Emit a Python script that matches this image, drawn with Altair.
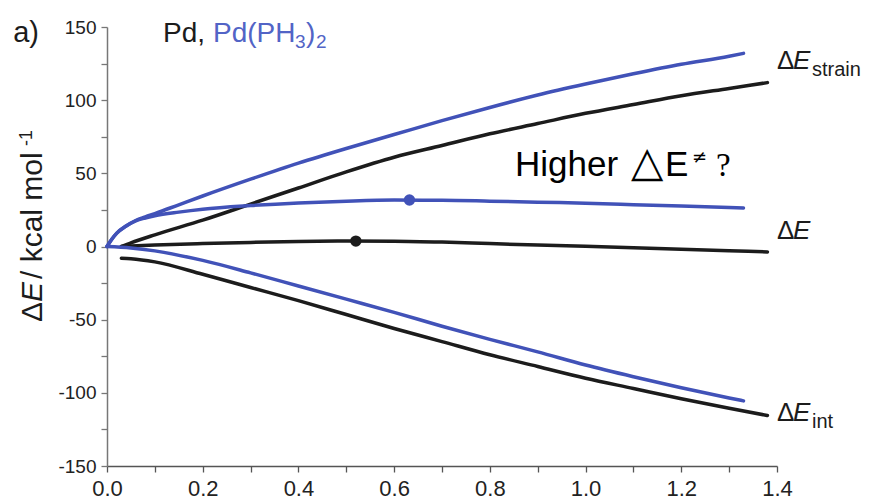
import altair as alt
import pandas as pd

# ---------------- data ----------------
# Pd (black)
pd_x = [0.03, 0.05, 0.1, 0.2, 0.3, 0.4, 0.5, 0.6, 0.7, 0.8, 0.9, 1.0, 1.1, 1.2, 1.3, 1.38]
pd_strain = [0, 2.5, 8, 18, 29, 40, 51, 61, 69, 77, 84, 91, 97, 103, 108, 112]
pd_de = [0, 0.3, 1, 2, 2.8, 3.4, 3.7, 3.6, 3.0, 2.0, 1.0, 0.1, -0.9, -1.9, -2.9, -3.7]
pd_int = [-8, -8.3, -10.5, -19, -28, -37, -46.5, -56, -65, -74, -82, -90, -97, -104, -110.5, -115.5]

# Pd(PH3)2 (blue)
pp_x = [0, 0.01, 0.02, 0.04, 0.06, 0.08, 0.1, 0.15, 0.2, 0.3, 0.4, 0.5, 0.6, 0.7, 0.8, 0.9, 1.0, 1.1, 1.2, 1.3, 1.33]
pp_strain = [0, 5, 9, 14, 17.8, 20.3, 22.5, 28.5, 34.5, 46, 57, 67, 76.5, 86, 95, 103.5, 111, 118, 124.5, 130, 132]
pp_de = [0, 5, 9, 14, 17.5, 19.5, 21, 23.5, 25.5, 28, 29.8, 31, 31.7, 31.6, 31, 30.3, 29.6, 28.6, 27.6, 26.6, 26.3]
ppi_x = [0, 0.05, 0.1, 0.2, 0.3, 0.4, 0.5, 0.6, 0.7, 0.8, 0.9, 1.0, 1.1, 1.2, 1.3, 1.33]
pp_int = [0, -1, -3, -9.5, -18, -27, -36, -45, -54.5, -63.5, -72, -81, -89, -96.5, -103.5, -105.5]

# transition states (dots)
ts_x = [0.52, 0.632]
ts_y = [3.7, 31.8]
ts_metal = ["Pd", "PdPH3"]

x_ticks = [round(0.1 * i, 1) for i in range(15)]
y_ticks = list(range(-150, 151, 25))

BLACK = "#1c1c1c"
BLUE = "#4152b8"
BLUE_TXT = "#5264c6"
FONT = "Liberation Sans"

rows = []
for name, xs_, ys_ in [("pd_strain", pd_x, pd_strain), ("pd_de", pd_x, pd_de), ("pd_int", pd_x, pd_int)]:
    for a, b in zip(xs_, ys_):
        rows.append({"x": a, "y": b, "curve": name, "metal": "Pd"})
for name, xs_, ys_ in [("pp_strain", pp_x, pp_strain), ("pp_de", pp_x, pp_de), ("pp_int", ppi_x, pp_int)]:
    for a, b in zip(xs_, ys_):
        rows.append({"x": a, "y": b, "curve": name, "metal": "PdPH3"})
lines_df = pd.DataFrame(rows)
ts_df = pd.DataFrame({"x": ts_x, "y": ts_y, "metal": ts_metal})

xs = alt.Scale(domain=[0, 1.4], nice=False, zero=False)
ys = alt.Scale(domain=[-150, 150], nice=False, zero=False)
cs = alt.Scale(domain=["Pd", "PdPH3"], range=[BLACK, BLUE])

x_axis = alt.Axis(values=x_ticks, format=".1f",
                  labelExpr="round(datum.value*10) % 2 == 0 ? datum.label : ''",
                  title=None, grid=False, domainColor="#555", tickColor="#555",
                  domainWidth=1.5, tickWidth=1.3, tickSize=6, labelFontSize=22,
                  labelFont=FONT, labelColor="#222", labelPadding=6,
                  labelFlush=False, labelOverlap=False)
y_axis = alt.Axis(values=y_ticks,
                  labelExpr="datum.value % 50 == 0 ? toString(datum.value) : ''",
                  title=None, grid=False, domainColor="#777", tickColor="#777",
                  domainWidth=1.5, tickWidth=1.3, tickSize=6, labelFontSize=19,
                  labelFont=FONT, labelColor="#222", labelPadding=5,
                  labelFlush=False, labelOverlap=False)

X = alt.X("x:Q", scale=xs, axis=x_axis)
Y = alt.Y("y:Q", scale=ys, axis=y_axis)

lines = alt.Chart(lines_df).mark_line(strokeWidth=3.5, interpolate="monotone", strokeCap="round").encode(
    x=X, y=Y,
    color=alt.Color("metal:N", scale=cs, legend=None),
    detail="curve:N",
)

dots = alt.Chart(ts_df).mark_point(filled=True, size=130, opacity=1).encode(
    x=X, y=Y,
    color=alt.Color("metal:N", scale=cs, legend=None),
)


def txt(texts, xv, yv, **mk):
    df = pd.DataFrame({"x": xv, "y": yv, "t": texts})
    props = dict(baseline="alphabetic", align="left", font=FONT, color=BLACK)
    props.update(mk)
    return alt.Chart(df).mark_text(**props).encode(x=X, y=Y, text="t:N")


# right-hand curve labels
lab_x = [1.4, 1.4, 1.4]
lab_y = [121, 5, -119.5]
lab_sub = ["strain", "", "int"]
lab_delta = txt(["Δ"] * 3, lab_x, lab_y, fontSize=26)
lab_e = txt(["E"] * 3, lab_x, lab_y, fontSize=26, fontStyle="italic", dx=16)
lab_s = txt(lab_sub, lab_x, lab_y, fontSize=20, dx=35, dy=7)

# top-left texts
top_x = [0.117]
top_y = [140]
t_a = txt(["a)"], [-0.196], top_y, fontSize=29)
t_pd = txt(["Pd,"], top_x, top_y, fontSize=28)
t_pp = txt(["Pd(PH"], top_x, top_y, fontSize=28, color=BLUE_TXT, dx=50)
t_3 = txt(["3"], top_x, top_y, fontSize=19, color=BLUE_TXT, dx=132, dy=6)
t_par = txt([")"], top_x, top_y, fontSize=28, color=BLUE_TXT, dx=143)
t_2 = txt(["2"], top_x, top_y, fontSize=19, color=BLUE_TXT, dx=153, dy=6)

# annotation
h_x = [0.8525]
h_y = [48.2]
h1 = txt(["Higher"], h_x, h_y, fontSize=35, color="#000")
h2 = txt(["△"], h_x, h_y, fontSize=42, color="#000", dx=116, font="DejaVu Sans")
h3 = txt(["E"], h_x, h_y, fontSize=35, color="#000", dx=150)
h4 = txt(["≠"], h_x, h_y, fontSize=18, color="#000", dx=177, dy=-13, font="DejaVu Sans")
h5 = txt(["?"], h_x, h_y, fontSize=33, color="#000", dx=201, font="Liberation Serif")

# y-axis title (rotated)
yt_x = [-0.136]
yt_y = [-51.6]
yt1 = txt(["Δ"], yt_x, yt_y, fontSize=30, angle=270)
yt2 = txt(["E"], yt_x, yt_y, fontSize=30, angle=270, fontStyle="italic", dx=20)
yt3 = txt([" / kcal mol"], yt_x, yt_y, fontSize=30, angle=270, dx=43)
yt4 = txt(["-1"], yt_x, yt_y, fontSize=18, angle=270, dx=176, dy=-10)

chart = alt.layer(
    lines, dots,
    lab_delta, lab_e, lab_s,
    t_a, t_pd, t_pp, t_3, t_par, t_2,
    h1, h2, h3, h4, h5,
    yt1, yt2, yt3, yt4,
).properties(
    width=670, height=439,
    autosize=alt.AutoSizeParams(type="none"),
    padding={"left": 107, "top": 27, "right": 92, "bottom": 36},
    background="white",
).configure_view(stroke=None)

chart.save("out.html", embed_options={"renderer": "svg", "actions": False})
